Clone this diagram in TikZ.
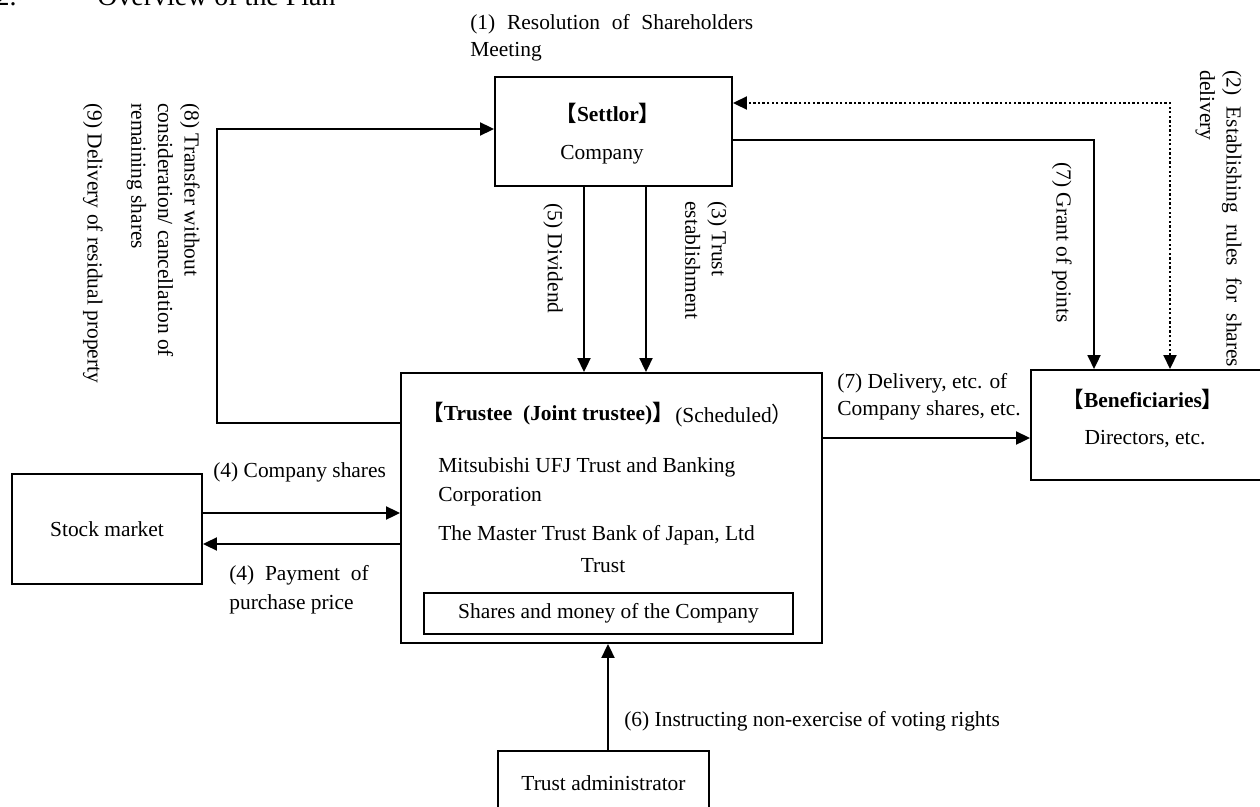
\documentclass[tikz,border=0pt]{standalone}
\usepackage{fontspec}
\setmainfont{Liberation Serif}
\newfontfamily\cjkfont{Noto Sans CJK JP}
\usetikzlibrary{arrows.meta,calc}
\definecolor{PlanInk}{HTML}{000000}
\newcommand{\bodyfont}{\fontsize{12.2}{15.1}\selectfont}
\newcommand{\lbr}{{\cjkfont 【}}
\newcommand{\rbr}{{\cjkfont 】}}
\tikzset{
  flow/.style={-{Triangle[length=2.8mm,width=2.6mm]},PlanInk,line width=1.1pt},
  flowdot/.style={flow,{Triangle[length=2.8mm,width=2.6mm]}-{Triangle[length=2.8mm,width=2.6mm]},
                  dash pattern=on 1.3pt off 1.3pt},
  box/.style={draw=PlanInk,line width=1.1pt,inner sep=0pt,text=PlanInk,font=\bodyfont},
  label/.style={text=PlanInk,inner sep=0pt,font=\bodyfont},
  sidelabel/.style={label,rotate=-90,anchor=north west,align=left},
  headlabel/.style={text=PlanInk,inner sep=0pt,font=\fontsize{15.9}{19}\selectfont},
}

\begin{document}
\begin{tikzpicture}[x=0.02cm,y=-0.02cm]
  \useasboundingbox (0,0) rectangle (1260,807);

  \node[headlabel,anchor=base east] (num) at (17,6) {2.};
  \node[headlabel,anchor=base west] (title) at (97,6) {Overview of the Plan};

  \node[box,minimum width=4.74cm,minimum height=2.18cm] (settlor) at (613.5,131.5) {};
  \node[label,anchor=base,font=\bodyfont\bfseries] at (608,122) {\lbr Settlor\rbr};
  \node[label,anchor=base] at (602,160) {Company};
  \node[label,anchor=base west,text width=5.66cm,align=justify] (resol) at (470,30)
    {(1) Resolution of Shareholders Meeting};

  \node[box,minimum width=4.62cm,minimum height=2.2cm] (benef) at (1146.5,425) {};
  \node[label,anchor=base,font=\bodyfont\bfseries] at (1143,407) {\lbr Beneficiaries\rbr};
  \node[label,anchor=base] at (1145,444) {Directors, etc.};

  \node[box,minimum width=8.42cm,minimum height=5.4cm] (trustee) at (611.5,508) {};
  \node[label,anchor=base west,font=\bodyfont\bfseries] at (422,420) {\lbr Trustee\ \ (Joint trustee)\rbr};
  \node[label,anchor=base west] at (675,422) {(Scheduled{\cjkfont ）}};
  \node[label,anchor=base west,align=left] at (438,501) {Mitsubishi UFJ Trust and Banking\\[1pt]Corporation};
  \node[label,anchor=base west] at (438,540) {The Master Trust Bank of Japan, Ltd};
  \node[label,anchor=base] at (603,572) {Trust};
  \node[box,minimum width=7.38cm,minimum height=0.82cm] (assets) at (608.5,613.5) {Shares and money of the Company};

  \node[box,minimum width=3.8cm,minimum height=2.2cm] (stock) at (107,529) {Stock market};
  \node[box,minimum width=4.22cm,minimum height=1.28cm] (admin) at (603.5,783) {Trust administrator};

  \coordinate (back) at (217,129);
  \draw[flow] ([yshift=1.7cm]trustee.west) -| (back) -- (back -| settlor.west);
  \draw[flowdot] ([xshift=0.47cm]benef.north) |- ([yshift=0.57cm]settlor.east);
  \draw[flow] ([yshift=-0.17cm]settlor.east) -| ([xshift=-1.05cm]benef.north);
  \draw[flow] ([xshift=-0.59cm]settlor.south) -- ([xshift=-0.59cm]settlor.south |- trustee.north);
  \draw[flow] ([xshift=0.65cm]settlor.south) -- ([xshift=0.65cm]settlor.south |- trustee.north);
  \draw[flow] ([yshift=1.4cm]trustee.east) -- ([yshift=1.4cm]trustee.east -| benef.west);
  \draw[flow] ([yshift=0.32cm]stock.east) -- ([yshift=0.32cm]stock.east -| trustee.west);
  \draw[flow] ([yshift=-0.3cm]stock.east -| trustee.west) -- ([yshift=-0.3cm]stock.east);
  \draw[flow] ([xshift=0.09cm]admin.north) -- ([xshift=0.09cm]admin.north |- trustee.south);

  \node[sidelabel,text width=5.94cm,align=justify] at (1242,70) {(2) Establishing rules for shares \mbox{delivery}};
  \node[sidelabel] at (1072,162) {(7) Grant of points};
  \node[sidelabel] at (563,203) {(5) Dividend};
  \node[sidelabel] at (727,201) {(3) Trust\\establishment};
  \node[sidelabel] at (200,103) {(8) Transfer without\\consideration/ cancellation of\\remaining shares};
  \node[sidelabel] at (103,103) {(9) Delivery of residual property};

  \node[label,anchor=base west] at (213,477) {(4) Company shares};
  \node[label,anchor=base west,align=left] at (229,609) {(4)\ \ Payment\ \ of\\[1.4pt]purchase price};
  \node[label,anchor=base west,align=left] at (837,415) {(7) Delivery, etc. of\\Company shares, etc.};
  \node[label,anchor=base west] at (624,726) {(6) Instructing non-exercise of voting rights};
\end{tikzpicture}
\end{document}
